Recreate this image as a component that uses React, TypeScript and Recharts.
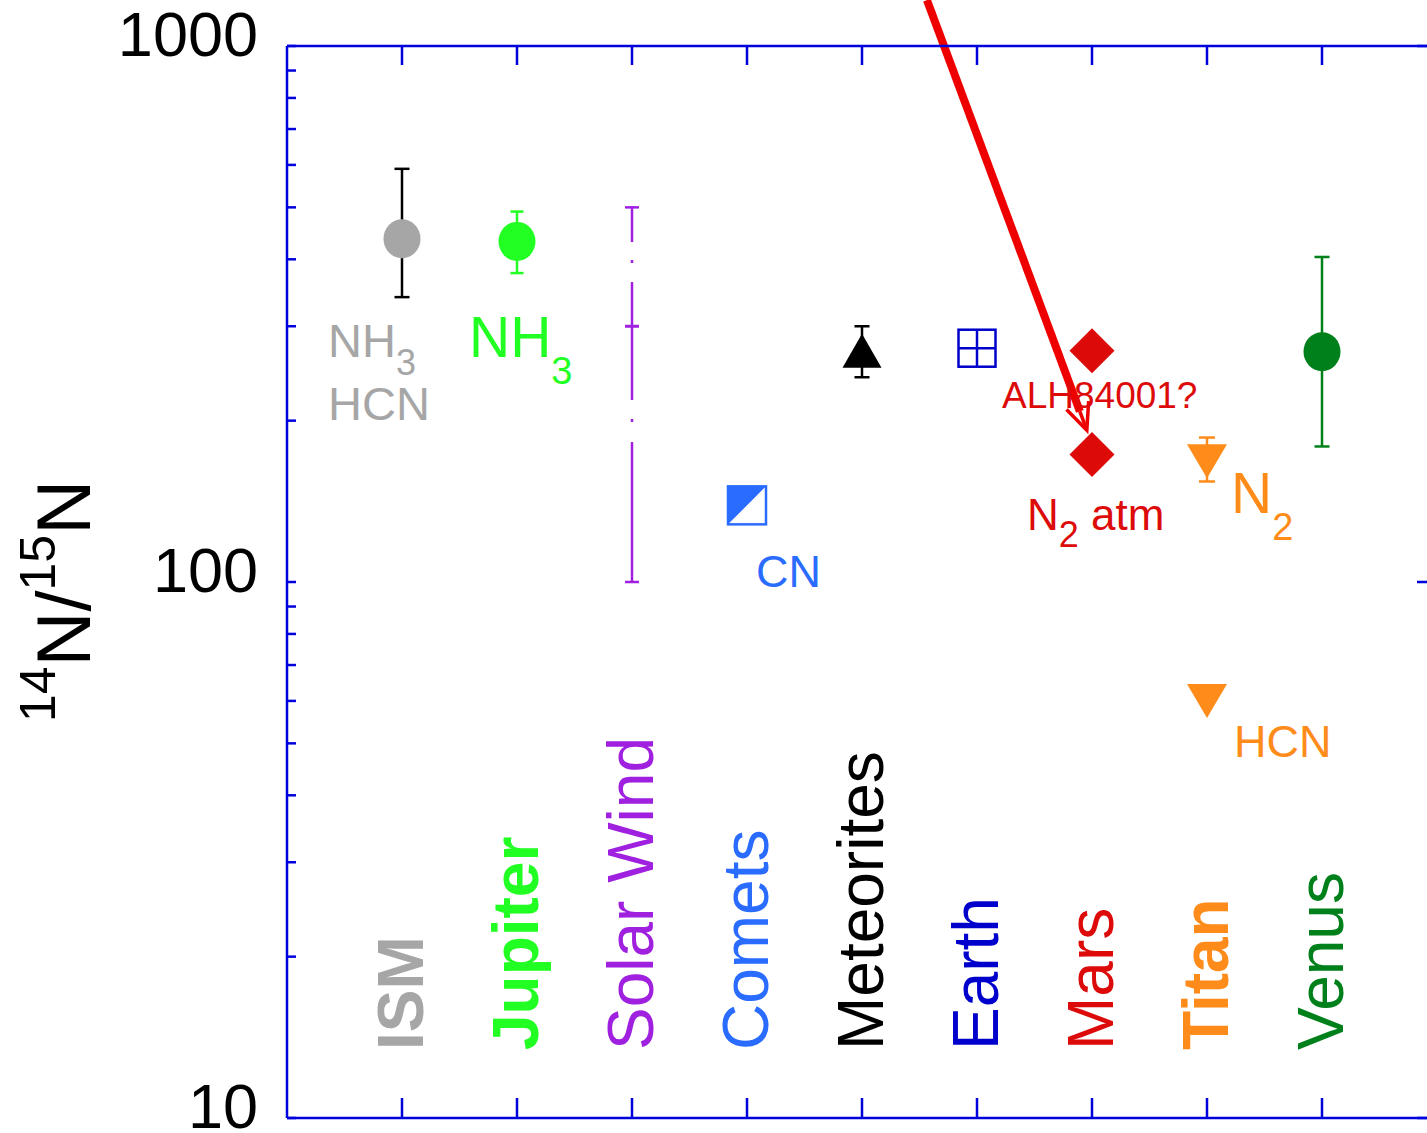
import React from 'react';
import { ScatterChart, Scatter, XAxis, YAxis, ErrorBar, ReferenceLine } from 'recharts';

const categories = ['ISM', 'Jupiter', 'Solar Wind', 'Comets', 'Meteorites', 'Earth', 'Mars', 'Titan', 'Venus'];
const categoryColors = ['#a6a6a6', '#22ff22', '#a020e0', '#2a6cff', '#000000', '#0000cc', '#dd0a0a', '#ff8c1a', '#00801a'];
const boldCategories = ['ISM', 'Jupiter', 'Titan'];
const categoryTicks = [1, 2, 3, 4, 5, 6, 7, 8, 9];

const yTicks = [10, 20, 30, 40, 50, 60, 70, 80, 90, 100, 200, 300, 400, 500, 600, 700, 800, 900, 1000];
const yMajorLabels = ['10', '100', '1000'];

// 14N/15N values and ranges [low, high]
const ismRatio = [437];
const ismRange = [[340, 590]];
const jupiterRatio = [432];
const jupiterRange = [[377, 491]];
const solarWindRatio = [300];
const solarWindRange = [[100, 500]];
const cometRatio = [139];
const meteoriteRatio = [270];
const meteoriteRange = [[241, 300]];
const earthRatio = [273];
const marsRatio = [270, 173];
const marsNotes = ['ALH84001?', 'N2 atm'];
const titanN2Ratio = [168];
const titanN2Range = [[154, 186]];
const titanHcnRatio = [60];
const venusRatio = [269];
const venusRange = [[179, 404]];

// arrow pointing at the Mars atmosphere value
const arrowFrom = { x: 5.565, y: 1218 };
const arrowTo = { x: 6.955, y: 192 };

const FONT = '"Liberation Sans", Arial, Helvetica, sans-serif';
const AXIS = '#0000dd';

const rows = (cat: string, values: number[], ranges?: number[][], notes?: string[]) =>
  values.map((v, i) => ({
    x: categories.indexOf(cat) + 1,
    y: v,
    err: ranges ? [v - ranges[i][0], ranges[i][1] - v] : [0, 0],
    note: notes ? notes[i] : '',
  }));

const color = (cat: string) => categoryColors[categories.indexOf(cat)];

const LeftTick = (p: any) => {
  const label = yMajorLabels.find((l) => Number(l) === p.payload.value);
  return (
    <g>
      <line x1={p.x} x2={p.x + 9} y1={p.y} y2={p.y} stroke={AXIS} strokeWidth={2.5} />
      {label && (
        <text x={p.x - 29} y={p.y - 12} textAnchor="end" dominantBaseline="central" fontSize={63} fill="#000" fontFamily={FONT}>
          {label}
        </text>
      )}
    </g>
  );
};

const RightTick = (p: any) => {
  const major = yMajorLabels.some((l) => Number(l) === p.payload.value);
  return <line x1={p.x} x2={p.x - (major ? 20 : 9)} y1={p.y} y2={p.y} stroke={AXIS} strokeWidth={2.5} />;
};

const BottomTick = (p: any) => {
  const name = categories[p.payload.value - 1];
  const lx = p.x + 21;
  const ly = p.y - 68;
  return (
    <g>
      <line x1={p.x} x2={p.x} y1={p.y} y2={p.y - 20} stroke={AXIS} strokeWidth={2.5} />
      {name && (
        <text
          x={lx}
          y={ly}
          transform={`rotate(-90 ${lx} ${ly})`}
          fontSize={64}
          fontWeight={boldCategories.includes(name) ? 700 : 400}
          fill={color(name)}
          fontFamily={FONT}
        >
          {name}
        </text>
      )}
    </g>
  );
};

// short inward tick hanging from the top frame line
const TopTickShape = (p: any) => {
  const top = Math.min(p.y1, p.y2);
  return <line x1={p.x1} x2={p.x1} y1={top} y2={top + 19} stroke={AXIS} strokeWidth={2.5} />;
};

const YTitle = (p: any) => {
  const vb = p.viewBox || { x: 0, y: 46, width: 287, height: 1072 };
  const cx = vb.x + 90;
  const cy = vb.y + vb.height / 2 + 19;
  return (
    <text x={cx} y={cy} transform={`rotate(-90 ${cx} ${cy})`} textAnchor="middle" fontSize={76} fill="#000" fontFamily={FONT}>
      <tspan fontSize={50} dy={-35}>14</tspan>
      <tspan dy={35}>N/</tspan>
      <tspan fontSize={50} dy={-35}>15</tspan>
      <tspan dy={35}>N</tspan>
    </text>
  );
};

const IsmShape = (p: any) => {
  const c = color('ISM');
  return (
    <g>
      <ellipse cx={p.cx} cy={p.cy} rx={18.5} ry={19.5} fill={c} />
      <text x={p.cx - 74} y={p.cy + 118} fontSize={47} fill={c} fontFamily={FONT}>
        NH<tspan fontSize={36} dy={18}>3</tspan>
      </text>
      <text x={p.cx - 74} y={p.cy + 181} fontSize={47} fill={c} fontFamily={FONT}>HCN</text>
    </g>
  );
};

const JupiterShape = (p: any) => {
  const c = color('Jupiter');
  return (
    <g>
      <ellipse cx={p.cx} cy={p.cy} rx={18.5} ry={19.5} fill={c} />
      <text x={p.cx - 48} y={p.cy + 116} fontSize={57} fill={c} fontFamily={FONT}>
        NH<tspan fontSize={38} dy={27}>3</tspan>
      </text>
    </g>
  );
};

const SolarWindShape = (p: any) => (
  <line x1={p.cx - 7} x2={p.cx + 7} y1={p.cy} y2={p.cy} stroke={color('Solar Wind')} strokeWidth={3} />
);

const CometShape = (p: any) => {
  const c = color('Comets');
  const h = 19;
  return (
    <g>
      <rect x={p.cx - h} y={p.cy - h} width={2 * h} height={2 * h} fill="#fff" stroke={c} strokeWidth={2.5} />
      <polygon points={`${p.cx - h},${p.cy - h} ${p.cx + h},${p.cy - h} ${p.cx - h},${p.cy + h}`} fill={c} />
      <text x={p.cx + 9} y={p.cy + 82} fontSize={45} fill={c} fontFamily={FONT}>CN</text>
    </g>
  );
};

const MeteoriteShape = (p: any) => (
  <polygon points={`${p.cx},${p.cy - 17} ${p.cx + 19.5},${p.cy + 17} ${p.cx - 19.5},${p.cy + 17}`} fill="#000" />
);

const EarthShape = (p: any) => {
  const c = color('Earth');
  const h = 18.5;
  return (
    <g>
      <rect x={p.cx - h} y={p.cy - h} width={2 * h} height={2 * h} fill="#fff" stroke={c} strokeWidth={2.5} />
      <line x1={p.cx} x2={p.cx} y1={p.cy - h} y2={p.cy + h} stroke={c} strokeWidth={2.5} />
      <line x1={p.cx - h} x2={p.cx + h} y1={p.cy} y2={p.cy} stroke={c} strokeWidth={2.5} />
    </g>
  );
};

const MarsShape = (p: any) => {
  const c = color('Mars');
  const h = 22.5;
  const note = p.payload?.note;
  return (
    <g>
      <polygon points={`${p.cx},${p.cy - h} ${p.cx + h},${p.cy} ${p.cx},${p.cy + h} ${p.cx - h},${p.cy}`} fill={c} />
      {note === marsNotes[0] && (
        <text x={p.cx - 90} y={p.cy + 57} fontSize={37} fill={c} fontFamily={FONT}>{note}</text>
      )}
      {note === marsNotes[1] && (
        <text x={p.cx - 65} y={p.cy + 76} fontSize={44} fill={c} fontFamily={FONT}>
          N<tspan fontSize={36} dy={17}>2</tspan>
          <tspan dy={-17}> atm</tspan>
        </text>
      )}
    </g>
  );
};

const downTriangle = (cx: number, cy: number) =>
  `${cx - 20},${cy - 17} ${cx + 20},${cy - 17} ${cx},${cy + 17}`;

const TitanN2Shape = (p: any) => {
  const c = color('Titan');
  return (
    <g>
      <polygon points={downTriangle(p.cx, p.cy)} fill={c} />
      <text x={p.cx + 24} y={p.cy + 52} fontSize={57} fill={c} fontFamily={FONT}>
        N<tspan fontSize={38} dy={27}>2</tspan>
      </text>
    </g>
  );
};

const TitanHcnShape = (p: any) => {
  const c = color('Titan');
  return (
    <g>
      <polygon points={downTriangle(p.cx, p.cy)} fill={c} />
      <text x={p.cx + 27} y={p.cy + 56} fontSize={45} fill={c} fontFamily={FONT}>HCN</text>
    </g>
  );
};

const VenusShape = (p: any) => <ellipse cx={p.cx} cy={p.cy} rx={18.5} ry={19.5} fill={color('Venus')} />;

const Arrow = (p: any) => {
  const { x1, y1, x2, y2 } = p;
  const c = '#ee0000';
  const dx = x2 - x1;
  const dy = y2 - y1;
  const len = Math.hypot(dx, dy) || 1;
  const ux = dx / len;
  const uy = dy / len;
  const head = 29;
  const a = (24 * Math.PI) / 180;
  const barb = (s: number) => ({
    x: x2 - head * (ux * Math.cos(s * a) - uy * Math.sin(s * a)),
    y: y2 - head * (ux * Math.sin(s * a) + uy * Math.cos(s * a)),
  });
  const l = barb(1);
  const r = barb(-1);
  const bx = x2 - ux * 20;
  const by = y2 - uy * 20;
  return (
    <g>
      <line x1={x1} y1={y1} x2={bx} y2={by} stroke={c} strokeWidth={8} />
      <line x1={bx} y1={by} x2={x2} y2={y2} stroke={c} strokeWidth={3.5} />
      <polyline points={`${l.x},${l.y} ${x2},${y2} ${r.x},${r.y}`} fill="none" stroke={c} strokeWidth={3.5} />
    </g>
  );
};

const App: React.FC = () => {
  return (
    <div
      style={{
        position: 'fixed',
        left: 0,
        top: 0,
        width: 1427,
        height: 1133,
        overflow: 'hidden',
        background: '#fff',
        fontFamily: FONT,
      }}
    >
      <ScatterChart width={1460} height={1133} margin={{ top: 16, right: 0, bottom: 0, left: 0 }}>
        <XAxis
          xAxisId="b"
          dataKey="x"
          type="number"
          orientation="bottom"
          domain={[0, 10]}
          ticks={categoryTicks}
          allowDataOverflow
          interval={0}
          height={15}
          tickSize={0}
          tickMargin={0}
          tickLine={false}
          axisLine={{ stroke: AXIS, strokeWidth: 2.5 }}
          tick={<BottomTick />}
        />
        <XAxis
          xAxisId="t"
          dataKey="x"
          type="number"
          orientation="top"
          domain={[0, 10]}
          allowDataOverflow
          height={30}
          tickLine={false}
          axisLine={{ stroke: AXIS, strokeWidth: 2.5 }}
          tick={false}
        />
        <YAxis
          yAxisId="l"
          dataKey="y"
          type="number"
          scale="log"
          domain={[10, 1000]}
          ticks={yTicks}
          allowDataOverflow
          interval={0}
          width={287}
          tickSize={0}
          tickMargin={0}
          tickLine={false}
          axisLine={{ stroke: AXIS, strokeWidth: 2.5 }}
          tick={<LeftTick />}
          label={{ content: <YTitle /> }}
        />
        <YAxis
          yAxisId="r"
          type="number"
          scale="log"
          orientation="right"
          domain={[10, 1000]}
          ticks={yTicks}
          allowDataOverflow
          interval={0}
          width={23}
          tickSize={0}
          tickMargin={0}
          tickLine={false}
          axisLine={{ stroke: AXIS, strokeWidth: 2.5 }}
          tick={<RightTick />}
        />

        {categoryTicks.map((c) => (
          <ReferenceLine key={`top-${c}`} xAxisId="b" yAxisId="l" x={c} stroke={AXIS} shape={TopTickShape} />
        ))}

        <Scatter xAxisId="b" yAxisId="l" data={rows('Solar Wind', solarWindRatio, solarWindRange)} shape={SolarWindShape} isAnimationActive={false}>
          <ErrorBar
            dataKey="err"
            direction="y"
            width={7}
            stroke={color('Solar Wind')}
            strokeWidth={2.5}
            strokeDasharray="140 20 3 19 118 19 3 18 400"
            isAnimationActive={false}
          />
        </Scatter>
        <Scatter xAxisId="b" yAxisId="l" data={rows('ISM', ismRatio, ismRange)} shape={IsmShape} isAnimationActive={false}>
          <ErrorBar dataKey="err" direction="y" width={7.5} stroke="#000" strokeWidth={2.5} isAnimationActive={false} />
        </Scatter>
        <Scatter xAxisId="b" yAxisId="l" data={rows('Jupiter', jupiterRatio, jupiterRange)} shape={JupiterShape} isAnimationActive={false}>
          <ErrorBar dataKey="err" direction="y" width={6.5} stroke={color('Jupiter')} strokeWidth={2.5} isAnimationActive={false} />
        </Scatter>
        <Scatter xAxisId="b" yAxisId="l" data={rows('Comets', cometRatio)} shape={CometShape} isAnimationActive={false} />
        <Scatter xAxisId="b" yAxisId="l" data={rows('Meteorites', meteoriteRatio, meteoriteRange)} shape={MeteoriteShape} isAnimationActive={false}>
          <ErrorBar dataKey="err" direction="y" width={7.5} stroke="#000" strokeWidth={2.5} isAnimationActive={false} />
        </Scatter>
        <Scatter xAxisId="b" yAxisId="l" data={rows('Earth', earthRatio)} shape={EarthShape} isAnimationActive={false} />
        <Scatter xAxisId="b" yAxisId="l" data={rows('Mars', marsRatio, undefined, marsNotes)} shape={MarsShape} isAnimationActive={false} />
        <Scatter xAxisId="b" yAxisId="l" data={rows('Titan', titanN2Ratio, titanN2Range)} shape={TitanN2Shape} isAnimationActive={false}>
          <ErrorBar dataKey="err" direction="y" width={8} stroke={color('Titan')} strokeWidth={2.5} isAnimationActive={false} />
        </Scatter>
        <Scatter xAxisId="b" yAxisId="l" data={rows('Titan', titanHcnRatio)} shape={TitanHcnShape} isAnimationActive={false} />
        <Scatter xAxisId="b" yAxisId="l" data={rows('Venus', venusRatio, venusRange)} shape={VenusShape} isAnimationActive={false}>
          <ErrorBar dataKey="err" direction="y" width={7.5} stroke={color('Venus')} strokeWidth={2.5} isAnimationActive={false} />
        </Scatter>

        <ReferenceLine
          xAxisId="b"
          yAxisId="l"
          segment={[arrowFrom, arrowTo]}
          ifOverflow="visible"
          stroke="#ee0000"
          shape={Arrow}
        />
      </ScatterChart>
    </div>
  );
};

export default App;
